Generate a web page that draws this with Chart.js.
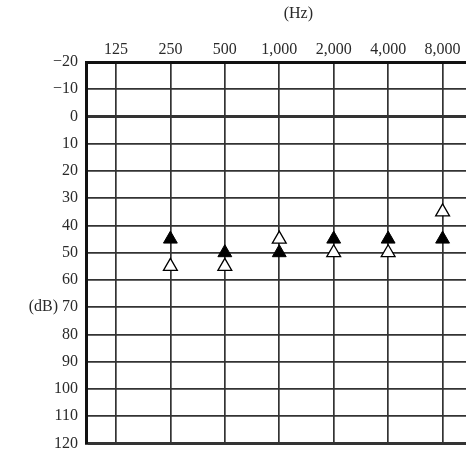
<!DOCTYPE html>
<html>
<head>
<meta charset="utf-8">
<script src="https://cdn.jsdelivr.net/npm/chart.js@4/dist/chart.umd.min.js"></script>
<style>
html,body{margin:0;padding:0;background:#fff;overflow:hidden;}
#wrap{width:490px;height:461px;position:relative;}
</style>
</head>
<body>
<div id="wrap"><canvas id="c"></canvas></div>
<script>
// Data
const freqLabels = ['125', '250', '500', '1,000', '2,000', '4,000', '8,000'];
const dbTicks = [-20, -10, 0, 10, 20, 30, 40, 50, 60, 70, 80, 90, 100, 110, 120];
const filledFreqIdx = [1, 2, 3, 4, 5, 6];
const filledValues = [45, 50, 50, 45, 45, 45];
const openFreqIdx = [1, 2, 3, 4, 5, 6];
const openValues = [55, 55, 45, 50, 50, 35];

const FONT = '"Liberation Serif", "DejaVu Serif", serif';
const INK = '#2a2a2a';

const hzTitle = {
  id: 'hzTitle',
  afterDraw(chart) {
    const ctx = chart.ctx;
    const xs = chart.scales.x;
    ctx.save();
    ctx.fillStyle = INK;
    ctx.font = '16px ' + FONT;
    ctx.textAlign = 'center';
    ctx.textBaseline = 'middle';
    ctx.fillText('(Hz)', xs.getPixelForValue(3.35), 14);
    ctx.restore();
  }
};

new Chart(document.getElementById('c'), {
  type: 'scatter',
  data: {
    datasets: [
      {
        label: 'filled',
        data: filledFreqIdx.map((f, i) => ({x: f, y: filledValues[i]})),
        pointStyle: 'triangle',
        pointRadius: 8,
        pointHoverRadius: 8,
        backgroundColor: '#000',
        borderColor: '#000',
        borderWidth: 1
      },
      {
        label: 'open',
        data: openFreqIdx.map((f, i) => ({x: f, y: openValues[i]})),
        pointStyle: 'triangle',
        pointRadius: 8,
        pointHoverRadius: 8,
        backgroundColor: '#fff',
        borderColor: '#000',
        borderWidth: 1.3
      }
    ]
  },
  options: {
    responsive: true,
    maintainAspectRatio: false,
    animation: false,
    layout: {padding: {top: 0, left: 0, right: 0, bottom: 4}},
    plugins: {legend: {display: false}, tooltip: {enabled: false}},
    scales: {
      x: {
        type: 'linear',
        position: 'top',
        min: -0.55,
        max: 6.7,
        afterBuildTicks(scale) {
          scale.ticks = freqLabels.map((_, i) => ({value: i}));
        },
        afterFit(scale) { scale.height = 62; },
        ticks: {
          callback: (v) => freqLabels[v],
          color: INK,
          font: {family: FONT, size: 16},
          padding: 3,
          maxRotation: 0,
          autoSkip: false
        },
        grid: {color: '#333', lineWidth: 1.7, drawTicks: false},
        border: {color: '#111', width: 3}
      },
      y: {
        type: 'linear',
        reverse: true,
        min: -20,
        max: 120,
        afterBuildTicks(scale) {
          scale.ticks = dbTicks.map(v => ({value: v}));
        },
        afterFit(scale) { scale.width = 86; },
        ticks: {
          callback: (v) => {
            const s = v < 0 ? '\u2212' + Math.abs(v) : String(v);
            return v === 70 ? '(dB) ' + s : s;
          },
          color: INK,
          font: {family: FONT, size: 16},
          padding: 8,
          autoSkip: false
        },
        grid: {
          color: '#333',
          lineWidth: (c) => (c.tick && (c.tick.value === 0 || c.tick.value === 120)) ? 3 : 1.7,
          drawTicks: false
        },
        border: {color: '#111', width: 3}
      }
    }
  },
  plugins: [hzTitle]
});
</script>
</body>
</html>
